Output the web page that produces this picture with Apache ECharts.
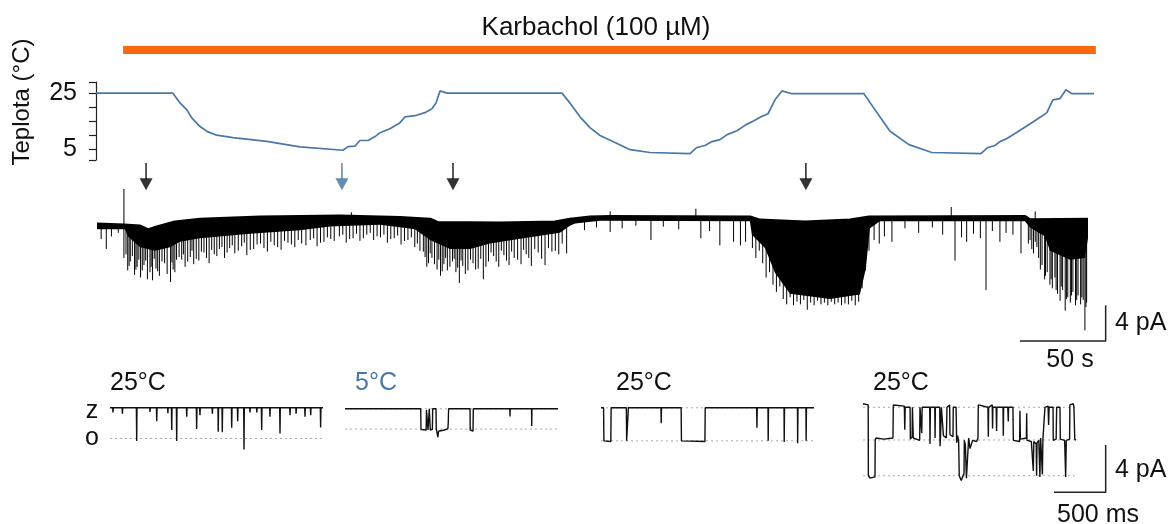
<!DOCTYPE html>
<html>
<head>
<meta charset="utf-8">
<script src="https://cdn.jsdelivr.net/npm/echarts@6/dist/echarts.min.js"></script>
<style>
html, body { margin: 0; background: #fff; }
#main { width: 1173px; height: 524px; }
</style>
</head>
<body>
<div id="main"></div>
<script>
// teplota [s, °C]
var tempData = [[0,25],[44.9,25],[49,21.5],[52.9,19.1],[56,16.0],[60.7,13.0],[65,11.2],[70.4,9.9],[79.9,9.0],[99.6,7.7],[119,5.7],[144.1,4.5],
  [147,5.8],[151.1,6.0],[154,8.0],[158.7,8.0],[162.8,9.4],[165.7,10.8],[171.5,12.2],[177.4,14.4],[180.3,16.5],[186.1,16.9],
  [191.9,18.0],[196,19.4],[198.4,21.5],[200.7,25.8],[204.8,25],[271.9,25],[276.5,21.5],[282.4,16.5],[288.2,12.6],[294.1,9.8],
  [302.8,7.3],[311.6,4.7],[323.2,3.7],[346.6,3.3],[350.6,5.5],[355.3,6.2],[359.4,7.6],[364.1,8.3],[368.2,10.1],[374,11.5],
  [379.3,13.7],[383.9,15.1],[388,16.5],[392.1,17.6],[396.2,22.6],[400.2,25.8],[406.1,24.8],[448.1,24.8],[454.5,19.0],[463.3,11.3],
  [474.3,6.5],[487.7,3.7],[516.3,3.3],[520.4,5.5],[524.5,6.2],[527.4,7.6],[531.5,8.7],[536.2,10.5],[542.6,13.0],[547.8,15.1],
  [551.3,16.5],[554.8,18.0],[558.3,22.6],[562.4,23.0],[565.9,26.2],[569.4,24.8],[582.3,24.8]];
var tempTicks = [1,5,10,15,20,25,29];
var tempLabels = [5,25];
var carbachol = [15.8, 583.4];   // s
var carbLevel = 40.5;

// proud [s, pA]
var baseline = [[0.6,-0.84],[16.3,-0.95],[25.7,-1.06],[30.3,-1.5],[35,-1.2],[46.1,-0.6],[60.7,-0.3],[95.7,-0.05],[142.4,0.05],
  [177.4,-0.1],[194.9,-0.3],[199.5,-0.67],[235.7,-0.73],[267.8,-0.6],[276.5,-0.3],[288.2,-0.05],[299.9,0],[381.6,-0.05],
  [387.3,-0.4],[413.7,-0.6],[439.9,-0.4],[451,-0.05],[542,0],[545,-0.35],[578.8,-0.3]];
var bandLower = [[0.6,-1.4],[16.9,-1.4],[18.7,-2.2],[25.7,-3.4],[34.4,-3.8],[43.2,-3.4],[49,-2.8],[60.7,-2.4],[89.8,-1.9],
  [119,-1.5],[136.5,-1.1],[165.7,-0.9],[186.1,-1.4],[194.9,-2.6],[206.5,-3.6],[218.2,-3.6],[229.9,-3.0],[253.2,-2.3],
  [270.7,-1.8],[276.5,-1.0],[279.5,-0.75],[294,-0.45],[381.5,-0.5],[382.7,-2.0],[390.3,-3.5],[396.2,-6.3],[404.9,-8.6],
  [428.2,-9.2],[445.7,-8.7],[449.2,-5.8],[451.5,-1.3],[457.3,-0.5],[542,-0.5],[544.9,-1.2],[553.7,-2.2],[556.6,-3.8],
  [568.3,-4.8],[577,-4.6],[578.8,-2.4]];
// [s, od, do]
var spikes = [
  [3,-0.9,-2.5],[6,-0.9,-3.6],[9,-0.9,-2.2],[13,-0.9,-1.8],[16.3,-0.9,-4.6],[16.3,-0.9,3.1],
  [18.5,-1,-6.0],[20,-1,-5.0],[22.5,-1,-6.5],[24,-1,-5.6],[26,-1.1,-6.8],[28,-1.2,-5.4],[30,-1.4,-7.0],[31.5,-1.4,-6.2],
  [33,-1.3,-7.1],[35,-1.2,-5.8],[37,-1.1,-6.6],[40,-1,-5.2],[43.5,-0.9,-7.3],[45,-0.8,-5.9],[47,-0.7,-4.8],
  [50,-0.5,-4.8],[52,-0.5,-5.6],[55,-0.4,-4.5],[57,-0.4,-5.3],[60,-0.3,-4.9],[63,-0.3,-4.0],[66,-0.3,-5.2],[69,-0.2,-4.2],
  [72,-0.2,-3.6],[75,-0.2,-4.6],[78,-0.2,-3.5],[81,-0.2,-4.1],[85,-0.1,-3.3],[88,-0.1,-4.3],[92,-0.1,-3.6],[96,-0.1,-3.0],
  [100,-0.1,-3.9],[104,-0.1,-3.2],[108,0,-3.7],[112,0,-2.9],[116,0,-3.4],[120,0,-3.0],[125,0,-2.6],[129,0,-3.3],[133,0,-2.8],
  [137,0,-2.5],[142,0,-2.2],[146,0,-2.9],[149,0,0.5],[150,0,-2.4],[154,0,-2.7],[158,0,-2.0],[162,0,-2.6],[166,0,-2.3],
  [170,-0.1,-2.9],[174,-0.1,-2.4],[178,-0.1,-3.1],[182,-0.2,-2.6],[186,-0.2,-3.4],[189,-0.3,-3.8],
  [192,-0.3,-4.5],[194,-0.4,-5.2],[196,-0.5,-4.6],[199,-0.6,-5.9],[201,-0.7,-6.6],[203,-0.7,-5.3],[205,-0.7,-6.0],
  [208,-0.7,-5.0],[210,-0.7,-6.2],[212,-0.7,-7.4],[214,-0.7,-5.5],[217,-0.7,-6.0],[220,-0.7,-5.2],[223,-0.7,-5.8],
  [226,-0.7,-7.0],[229,-0.7,-5.0],[232,-0.7,-4.4],[235,-0.7,-5.6],[238,-0.7,-4.3],[241,-0.7,-5.4],[244,-0.7,-4.6],
  [248,-0.7,-5.3],[251,-0.7,-4.2],[254,-0.7,-5.5],[258,-0.7,-4.0],[262,-0.7,-5.4],[266,-0.6,-3.9],[270,-0.5,-4.2],
  [274.6,-0.4,-4.1],[285,-0.1,-1.5],[292,0,-1.2],[300,0,-1.7],[300,0,0.6],[307,0,-1.3],[315,0,-1.0],[323.8,0,-2.6],
  [331,0,-1.1],[340,0,-1.4],[350,0,0.9],[352.9,0,-2.4],[358,0,-1.6],[364,0,-3.2],[372,0,-2.8],[376,0,-3.2],[379,0,-2.8],
  [383,-0.2,-3.5],[385,-0.3,-4.6],[387,-0.4,-3.8],[389,-0.4,-5.2],[391,-0.4,-6.8],[393,-0.5,-6.2],[395,-0.5,-7.6],
  [397,-0.5,-8.4],[399,-0.5,-7.8],[401,-0.6,-9.2],[403,-0.6,-9.8],[405,-0.6,-9.0],[407,-0.6,-9.9],[409,-0.6,-9.5],
  [411,-0.6,-9.8],[413,-0.6,-9.3],[415,-0.6,-10.4],[417,-0.6,-9.6],[419,-0.6,-9.9],[421,-0.6,-9.4],[423,-0.5,-9.8],
  [425,-0.5,-9.6],[427,-0.5,-9.9],[429,-0.5,-9.5],[431,-0.5,-9.8],[433,-0.5,-9.6],[435,-0.5,-9.9],[437,-0.4,-9.7],
  [439,-0.4,-9.8],[441,-0.4,-9.4],[443,-0.3,-9.9],[445,-0.3,-9.5],[447,-0.2,-8.0],[449,-0.1,-6.0],[451,-0.1,-3.8],
  [454,0,-2.6],[457,0,-3.0],[460,0,-2.2],[464.4,0,-2.8],[472,0,-1.3],[480,0,-1.8],[488,0,-1.2],[494,0,-2.0],[499,0,1.1],
  [501.2,0,-4.9],[505,0,-2.3],[508,0,-2.8],[512,0,-1.9],[516,0,-2.4],[519.3,0,-8.2],[523,0,-1.6],[527.4,0,-2.8],
  [531,0,-1.8],[535,0,-2.0],[539.7,0,-4.1],
  [544,-0.3,-3.0],[546,-0.3,-3.6],[548,-0.3,0.6],[548,-0.3,-2.8],[550,-0.3,-4.6],[552,-0.3,-5.4],[553.5,-0.3,-7.0],
  [555,-0.3,-6.2],[556.6,-0.3,-7.6],[558,-0.3,-8.0],[559.5,-0.3,-6.8],[561,-0.3,-8.6],[562.5,-0.3,-9.4],[564,-0.3,-8.2],
  [565.5,-0.3,-10.5],[567,-0.3,-9.0],[568.5,-0.3,-9.6],[570,-0.3,-8.4],[571.5,-0.3,-9.9],[573,-0.3,-8.8],[574.5,-0.3,-9.8],
  [576,-0.3,-9.3],[577,-0.3,-12.7],[578,-0.3,-9.6]];
// hustší otevření mezi hlavními
var spikesDense = [
  [17.5,-1,-4.2],[19.3,-1,-5.5],[21.2,-1,-4.4],[23.3,-1,-5.9],[25,-1.05,-4.8],[27,-1.1,-6.0],[29,-1.3,-4.9],[32.2,-1.4,-5.6],
  [34,-1.3,-4.7],[36,-1.15,-6.1],[38.5,-1.05,-5.0],[41.5,-1,-6.4],[44.3,-0.85,-5.1],[46,-0.7,-6.2],[48.5,-0.6,-4.5],
  [51,-0.45,-4.2],[53.5,-0.45,-5.0],[56,-0.4,-3.8],[58.5,-0.35,-4.7],[61.5,-0.3,-3.9],[64.5,-0.3,-4.6],[67.5,-0.25,-3.7],
  [70.5,-0.2,-4.4],[73.5,-0.2,-3.4],[76.5,-0.2,-4.0],[79.5,-0.2,-3.2],[83,-0.15,-3.8],[86.5,-0.1,-2.9],[90,-0.1,-3.7],
  [94,-0.1,-3.1],[98,-0.1,-3.5],[102,-0.1,-2.8],[106,-0.05,-3.4],[110,0,-2.7],[114,0,-3.1],[118,0,-2.6],[122.5,0,-3.2],
  [127,0,-2.4],[131,0,-2.9],[135,0,-2.3],[139,0,-2.7],
  [144,0,-2.0],[148,0,-2.5],[152,0,-1.9],[156,0,-2.4],[160,0,-1.8],[164,0,-2.2],[168,0,-2.0],[172,-0.1,-2.5],[176,-0.1,-2.1],
  [180,-0.15,-2.7],[184,-0.2,-2.3],[187.5,-0.25,-3.0],
  [191,-0.3,-3.9],[193,-0.35,-5.6],[195,-0.45,-4.1],[197.5,-0.55,-5.3],[200,-0.65,-4.8],[202,-0.7,-6.1],[204,-0.7,-4.6],
  [206.5,-0.7,-5.6],[209,-0.7,-4.7],[211,-0.7,-5.7],[213,-0.7,-4.9],[215.5,-0.7,-6.4],[218.5,-0.7,-4.8],[221.5,-0.7,-5.9],
  [224.5,-0.7,-4.7],[227.5,-0.7,-5.6],
  [230.5,-0.7,-4.0],[233.5,-0.7,-5.0],[236.5,-0.7,-3.8],[239.5,-0.7,-4.9],[242.5,-0.7,-3.9],[246,-0.7,-4.8],[249.5,-0.7,-3.7],
  [252.5,-0.7,-4.6],[256,-0.7,-3.6],[260,-0.7,-4.7],[264,-0.65,-3.5],[268,-0.55,-3.8],[272,-0.45,-3.0],
  [545,-0.35,-2.6],[547,-0.3,-4.1],[549,-0.3,-3.4],[551,-0.3,-5.9],[554,-0.3,-6.6],[557.3,-0.3,-7.0],[560.2,-0.3,-8.2],
  [563.2,-0.3,-7.8],[566.2,-0.3,-9.2],[569.2,-0.3,-8.8],[572.2,-0.3,-9.3],[575.2,-0.3,-9.0],[577.6,-0.3,-10.1]];
var arrowTimes = [29.2, 143.5, 208.3, 414.2];
var blueArrow = 1;
var scaleBar1 = [[539.1,-13.9],[589.1,-13.9],[589.1,-9.9]];   // 50 s, 4 pA

// výřezy [ms, pA]
var inset1Spikes = [[29,-0.4],[120,-0.5],[258,-2.82],[387,-0.35],[452,-1.13],[560,-0.45],[597,-1.89],[645,-2.82],[742,-0.76],
  [838,-1.8],[870,-0.62],[990,-0.5],[1047,-2.03],[1086,-2.08],[1177,-1.69],[1235,-1.13],[1296,-3.53],[1354,-0.4],
  [1420,-0.4],[1467,-1.89],[1547,-0.76],[1644,-2.17],[1741,-0.62],[1800,-0.5],[1886,-0.76],[1941,-0.62],[2037,-1.66]];
var inset2 = [[0,0],[732,0],[735,-1.75],[785,-1.8],[788,-0.1],[800,0],[803,-1.8],[812,-1.75],[815,0],[822,0],[825,-1.8],
  [845,-1.75],[848,0],[880,0],[883,-1.7],[898,-2.4],[905,-1.9],[960,-1.8],[995,-1.7],[999,-1.1],[1002,0],[1209,0],
  [1211,-1.8],[1238,-1.9],[1241,0],[1594,0],[1596,-0.65],[1598,0],[1804,0],[1806,-1.45],[1808,0],[2060,0]];
var inset3 = [[0,0],[25,0],[28,-2.8],[95,-2.85],[98,0],[245,0],[248,-2.8],[262,-2.8],[265,0],[580,0],[582,-1.3],[585,0],
  [775,0],[778,-2.8],[1005,-2.85],[1008,0],[1505,0],[1508,-1.7],[1511,0],[1615,0],[1617,-2.8],[1620,0],[1770,0],
  [1772,-2.9],[1775,0],[1900,0],[1902,-3.0],[1905,0],[1982,0],[1984,-2.8],[1987,0],[2060,0]];
var inset4 = [[0,0.3],[50,0.2],[52,-5.8],[68,-6.0],[116,-5.9],[118,-2.8],[126,-2.6],[200,-2.7],[290,-2.6],[293,0.2],
  [400,0.1],[404,-1.9],[408,0],[455,0],[458,-2.7],[475,-2.5],[478,0],[483,0],[486,-2.6],[548,-2.8],[551,0],[565,0.1],
  [568,-2.2],[572,0],[645,0],[648,-3.1],[652,0],[694,0],[697,-2.6],[700,0],[742,0],[745,-3.3],[750,-2.4],[758,0],[775,0],
  [778,-2.4],[806,-2.6],[809,-1.5],[812,0],[838,0.2],[841,-2.3],[870,-2.5],[873,0],[900,0],[906,-3.0],[915,-2.4],
  [925,-2.9],[931,-5.8],[950,-6.2],[977,-5.6],[980,-2.8],[990,-3.2],[1000,-6.0],[1018,-5.9],[1022,-2.6],[1035,-3.5],
  [1060,-2.8],[1067,-2.7],[1099,-2.9],[1112,-2.6],[1115,0.2],[1208,0],[1212,-2.5],[1215,0],[1250,0.2],[1253,-1.8],
  [1256,0],[1288,0],[1292,-2.0],[1295,0],[1354,0],[1357,-2.4],[1360,0],[1400,0],[1405,-1.2],[1408,0],[1450,0],
  [1454,-2.8],[1515,-2.9],[1518,-0.3],[1522,-2.7],[1580,-2.6],[1583,-0.5],[1586,-2.8],[1628,-2.9],[1640,-3.0],
  [1647,-5.4],[1652,-2.9],[1675,-3.1],[1679,-5.8],[1683,-3.0],[1700,-2.8],[1711,-5.9],[1718,-2.6],[1735,-5.7],
  [1740,-2.7],[1757,-2.8],[1760,0],[1790,0.1],[1795,-1.5],[1800,0],[1838,0],[1840,-2.8],[1868,-2.7],[1873,0],
  [1905,0],[1908,-2.7],[1950,-2.8],[1960,-5.9],[1966,-2.8],[1998,-2.7],[2001,0.2],[2034,0.3],[2040,0],[2048,-2.7],[2060,-2.8]];
var insetLevels = [[-2.6], [0,-1.72], [0,-2.8], [0,-2.77,-5.8]];
var insetTitles = ['25°C', '5°C', '25°C', '25°C'];
var scaleBar2 = [[1847,-7.2],[2347,-7.2],[2347,-3.19]];   // 500 ms, 4 pA

var FONT = "'Liberation Sans', Arial, sans-serif";
var BLUE = '#4a78a6';
var PX_PER_S = 998 / 582.3;
var PX_PER_MS = 213 / 2060;

var chart = echarts.init(document.getElementById('main'));

// výřez 1 – jen zavřený stav s krátkými otevřeními
var inset1 = [[0, 0]];
inset1Spikes.forEach(function (s) {
  inset1.push([s[0] - 3, 0], [s[0], s[1]], [s[0] + 3, 0]);
});
inset1.push([2060, 0]);
var insets = [inset1, inset2, inset3, inset4];
var insetLefts = [110, 345, 601, 863];
var insetTops = [396, 397, 396, 395.5];
var insetMax = [2060, 2060, 2060, 2400];   // poslední nese i měřítko

var grids = [
  {left: 96, top: 82, width: 998, height: 78},
  {left: 96, top: 181, width: 600 * PX_PER_S, height: 152}
];
var xAxes = [
  {gridIndex: 0, type: 'value', min: 0, max: 582.3, show: false},
  {gridIndex: 1, type: 'value', min: 0, max: 600, show: false}
];
var yAxes = [
  {gridIndex: 0, type: 'value', min: 1, max: 29,
    axisLine: {show: true, lineStyle: {color: '#222', width: 1.2}},
    axisTick: {show: true, length: 7, customValues: tempTicks, lineStyle: {color: '#222', width: 1.2}},
    axisLabel: {customValues: tempLabels, margin: 19, fontSize: 25, fontFamily: FONT, color: '#111'},
    splitLine: {show: false}},
  {gridIndex: 1, type: 'value', min: -13, max: 4, show: false}
];
function spikeSeries(d) {
  return {type: 'custom', xAxisIndex: 1, yAxisIndex: 1, data: d, clip: false,
    encode: {x: 0, y: [1, 2]},
    renderItem: function (params, api) {
      var a = api.coord([api.value(0), api.value(1)]);
      var b = api.coord([api.value(0), api.value(2)]);
      return {type: 'line', shape: {x1: a[0], y1: a[1], x2: b[0], y2: b[1]}, style: {stroke: '#000', lineWidth: 1}};
    }};
}
var series = [
  {type: 'line', xAxisIndex: 0, yAxisIndex: 0, data: tempData, symbol: 'none', clip: false,
    lineStyle: {color: BLUE, width: 1.7}},
  {type: 'line', xAxisIndex: 0, yAxisIndex: 0, symbol: 'none', clip: false,
    data: [[carbachol[0], carbLevel], [carbachol[1], carbLevel]],
    lineStyle: {color: '#fa6a0c', width: 8, cap: 'butt'}},
  {type: 'custom', xAxisIndex: 1, yAxisIndex: 1, data: [[0, 0]], clip: false,
    renderItem: function (params, api) {
      var pts = baseline.map(function (p) { return api.coord(p); })
        .concat(bandLower.slice().reverse().map(function (p) { return api.coord(p); }));
      return {type: 'polygon', shape: {points: pts}, style: {fill: '#000'}};
    }},
  spikeSeries(spikes),
  spikeSeries(spikesDense),
  {type: 'line', xAxisIndex: 1, yAxisIndex: 1, data: baseline, symbol: 'none', clip: false,
    lineStyle: {color: '#000', width: 3.5}},
  {type: 'line', xAxisIndex: 1, yAxisIndex: 1, data: scaleBar1, symbol: 'none', clip: false,
    lineStyle: {color: '#222', width: 1.5}}
];
arrowTimes.forEach(function (t, i) {
  var c = i === blueArrow ? '#3f6f9e' : '#000';
  series.push({type: 'line', xAxisIndex: 1, yAxisIndex: 1, data: [[t, 6.0], [t, 4.2]], symbol: 'none', clip: false,
    lineStyle: {color: c, width: 1.3}});
  series.push({type: 'scatter', xAxisIndex: 1, yAxisIndex: 1, data: [[t, 3.64]], symbol: 'triangle',
    symbolRotate: 180, symbolSize: [13, 12], clip: false, itemStyle: {color: c}});
});

insets.forEach(function (d, k) {
  var g = grids.length;
  grids.push({left: insetLefts[k], top: insetTops[k], width: insetMax[k] * PX_PER_MS, height: 94.4});
  xAxes.push({gridIndex: g, type: 'value', min: 0, max: insetMax[k], show: false});
  yAxes.push({gridIndex: g, type: 'value', min: -7, max: 1, show: false});
  insetLevels[k].forEach(function (L) {
    series.push({type: 'line', xAxisIndex: g, yAxisIndex: g, data: [[0, L], [2060, L]], symbol: 'none',
      lineStyle: {color: '#aaa', width: 1, type: [2, 3]}});
  });
  series.push({type: 'line', xAxisIndex: g, yAxisIndex: g, data: d, symbol: 'none', clip: false,
    lineStyle: {color: '#111', width: 1.4}});
  if (k === 3) {
    series.push({type: 'line', xAxisIndex: g, yAxisIndex: g, data: scaleBar2, symbol: 'none', clip: false,
      lineStyle: {color: '#222', width: 1.5}});
  }
});

function txt(text, x, y, align, size, color, rot) {
  return {type: 'text', x: x, y: y, rotation: rot || 0,
    style: {text: text, fontSize: size, fontFamily: FONT, fill: color || '#111',
      align: align, textAlign: align, verticalAlign: 'middle', textVerticalAlign: 'middle'}};
}
var graphics = [
  txt('Karbachol (100 µM)', 596, 28, 'center', 26),
  txt('Teplota (°C)', 22, 102, 'center', 24, '#111', Math.PI / 2),
  txt('4 pA', 1115, 323, 'left', 25),
  txt('50 s', 1070, 360, 'center', 25),
  txt('4 pA', 1115, 470, 'left', 25),
  txt('500 ms', 1098, 515, 'center', 25),
  txt('z', 92, 411, 'center', 25),
  txt('o', 92, 438, 'center', 25)
];
var titleShift = [0, 10, 15, 10];
insetTitles.forEach(function (s, k) {
  graphics.push(txt(s, insetLefts[k] + titleShift[k], 383, 'left', 25, k === 1 ? BLUE : '#111'));
});

chart.setOption({
  animation: false,
  grid: grids,
  xAxis: xAxes,
  yAxis: yAxes,
  series: series,
  graphic: {elements: graphics}
});
</script>
</body>
</html>
